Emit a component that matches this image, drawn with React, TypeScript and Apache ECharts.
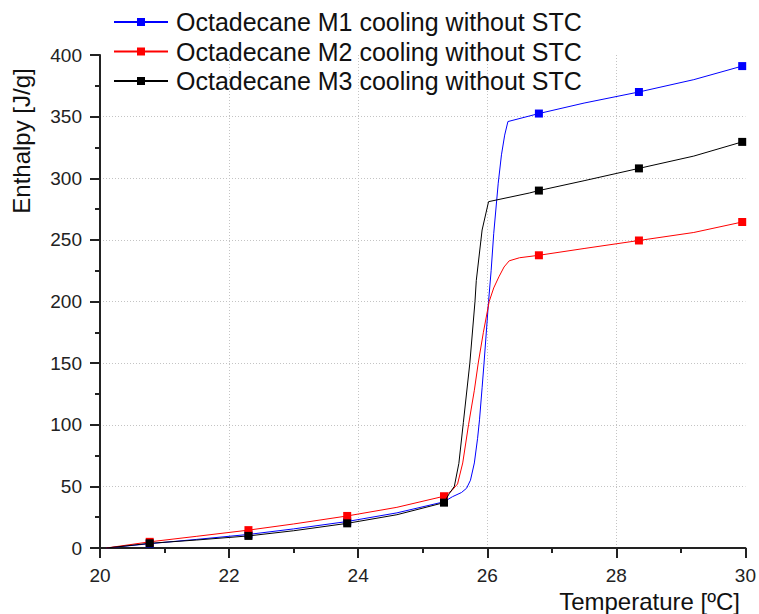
import React, { useEffect, useRef } from "react";
import * as echarts from "echarts";

const seriesNames = [
  "Octadecane M1 cooling without STC",
  "Octadecane M2 cooling without STC",
  "Octadecane M3 cooling without STC",
];
const seriesColors = ["#0000ff", "#ff0000", "#000000"];

// temperatures where square markers are drawn
const markerTemps = [20.77, 22.3, 23.83, 25.33, 26.8, 28.35, 29.95];

const m1Temp = [20.1, 20.77, 21.5, 22.3, 23.0, 23.83, 24.6, 25.33, 25.46, 25.6, 25.68, 25.74, 25.8, 25.85, 25.88, 25.92, 25.95, 26.02, 26.06, 26.1, 26.17, 26.22, 26.27, 26.32, 26.8, 27.5, 28.35, 29.2, 29.95];
const m1Enth = [0, 3.5, 7, 11, 15.5, 21.5, 28.5, 37.5, 41.6, 45, 48.5, 55, 69, 89, 104, 130, 150, 200, 225, 255, 296, 319, 335, 346, 352.5, 361, 370, 380, 391];

const m2Temp = [20.1, 20.77, 21.5, 22.3, 23.0, 23.83, 24.6, 25.33, 25.45, 25.54, 25.62, 25.71, 25.8, 25.86, 25.94, 26.03, 26.1, 26.18, 26.26, 26.34, 26.5, 26.8, 27.5, 28.35, 29.2, 29.95];
const m2Enth = [0, 5, 9.5, 14.5, 19.5, 26, 33, 42, 46.5, 52, 69, 100, 128, 150, 175, 200, 211, 220, 228, 233, 235.5, 237.5, 243, 249.5, 256, 264.5];

const m3Temp = [20.1, 20.77, 21.5, 22.3, 23.0, 23.83, 24.6, 25.33, 25.41, 25.49, 25.56, 25.63, 25.73, 25.81, 25.83, 25.92, 26.02, 26.65, 26.8, 27.5, 28.35, 29.2, 29.95];
const m3Enth = [0, 3.8, 6.5, 9.8, 14, 20, 27, 36.8, 44, 50, 68.7, 102, 150, 200, 217, 258, 281, 288, 290, 298, 308, 318, 329.5];

const xTicks = { min: 20, max: 30, interval: 2 };
const yTicks = { min: 0, max: 400, interval: 50 };

const FONT = "'Liberation Sans', Arial, sans-serif";

function zip(t: number[], h: number[]) {
  return t.map((v, i) => [v, h[i]]);
}

export default function App() {
  const ref = useRef<HTMLDivElement>(null);
  useEffect(() => {
    if (!ref.current) return;
    const chart = echarts.init(ref.current, null, { renderer: "svg" });
    const datasets = [zip(m1Temp, m1Enth), zip(m2Temp, m2Enth), zip(m3Temp, m3Enth)];
    const axisCommon = {
      axisLine: { show: true, onZero: false, lineStyle: { color: "#222", width: 2 } },
      axisTick: { show: true, inside: false, length: 10, lineStyle: { color: "#222", width: 2 } },
      minorTick: { show: true, splitNumber: 2, length: 5, lineStyle: { color: "#222", width: 2 } },
      axisLabel: { color: "#222", fontSize: 19, fontFamily: FONT, margin: 18 },
      splitLine: {
        show: true,
        showMinLine: false,
        showMaxLine: false,
        lineStyle: { color: "#c4c4c4", type: [1, 2], width: 1 },
      },
    };
    chart.setOption({
      animation: false,
      backgroundColor: "#ffffff",
      grid: { left: 100, right: 12, top: 55, bottom: 66 },
      legend: {
        orient: "vertical",
        left: 108,
        top: 4.5,
        itemWidth: 54,
        itemHeight: 10,
        itemGap: 4.5,
        data: seriesNames,
        textStyle: {
          fontSize: 25,
          fontFamily: FONT,
          color: "#111",
          lineHeight: 25,
          padding: [0, 0, 0, 3],
        },
      },
      xAxis: { type: "value", ...xTicks, ...axisCommon },
      yAxis: { type: "value", ...yTicks, ...axisCommon },
      graphic: [
        {
          type: "text",
          x: 21,
          y: 141,
          rotation: Math.PI / 2,
          style: {
            text: "Enthalpy [J/g]",
            fontSize: 24,
            fontFamily: FONT,
            fill: "#111",
            align: "center",
            verticalAlign: "middle",
          },
        },
        {
          type: "text",
          x: 740,
          y: 601,
          style: {
            text: "Temperature [ºC]",
            fontSize: 24,
            fontFamily: FONT,
            fill: "#111",
            align: "right",
            verticalAlign: "middle",
          },
        },
      ],
      series: datasets.map((d, i) => ({
        name: seriesNames[i],
        type: "line",
        data: d,
        color: seriesColors[i],
        lineStyle: { width: 1, color: seriesColors[i] },
        itemStyle: { color: seriesColors[i] },
        symbol: "rect",
        showSymbol: true,
        showAllSymbol: true,
        symbolSize: (val: number[]) => (markerTemps.includes(val[0]) ? 8 : 0),
        z: 2 + i,
        smooth: false,
      })),
    });
    return () => chart.dispose();
  }, []);
  return (
    <div
      ref={ref}
      style={{ position: "fixed", left: 0, top: 0, width: 759, height: 614 }}
    />
  );
}
